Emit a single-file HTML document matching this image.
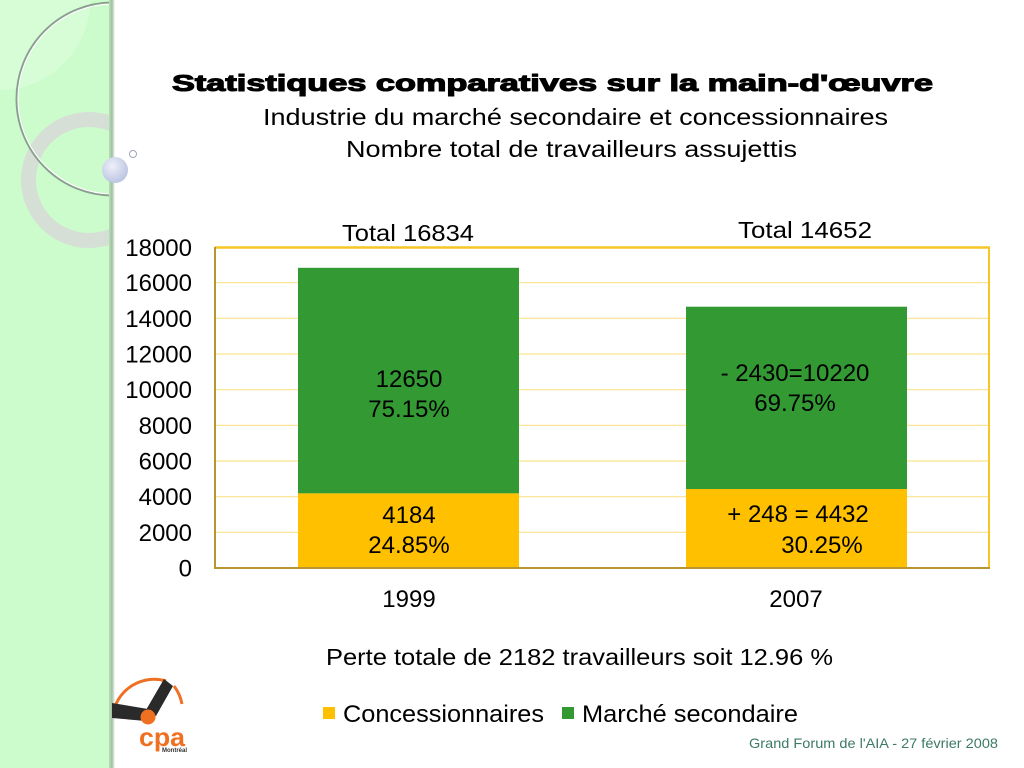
<!DOCTYPE html>
<html>
<head>
<meta charset="utf-8">
<style>
html,body{margin:0;padding:0;background:#fff;}
svg{display:block;}
text{font-family:"Liberation Sans",Arial,sans-serif;fill:#000;}
</style>
</head>
<body>
<svg width="1024" height="768" viewBox="0 0 1024 768" xmlns="http://www.w3.org/2000/svg">
<defs>
<linearGradient id="edge" x1="0" x2="1" y1="0" y2="0">
<stop offset="0" stop-color="#b9e0b9"/>
<stop offset="0.5" stop-color="#9fbf9f"/>
<stop offset="1" stop-color="#ffffff"/>
</linearGradient>
<radialGradient id="ball" cx="0.4" cy="0.35" r="0.7">
<stop offset="0" stop-color="#eef0fa"/>
<stop offset="1" stop-color="#b8c2e0"/>
</radialGradient>
<clipPath id="panel"><rect x="0" y="0" width="112" height="768"/></clipPath>
</defs>

<!-- left decorative panel -->
<rect x="0" y="0" width="112" height="768" fill="#ccfccc"/>
<g clip-path="url(#panel)">
  <path d="M0 0 H90 A90 90 0 0 1 0 90 Z" fill="#dcfddc" opacity="0.7"/>
  <circle cx="89" cy="180" r="60.5" fill="none" stroke="#d6dfd6" stroke-width="15"/>
  <circle cx="113" cy="99" r="96" fill="none" stroke="#8aa08f" stroke-width="3"/>
  <circle cx="113" cy="99" r="95" fill="none" stroke="#ffffff" stroke-width="1.2"/>
</g>
<rect x="109" y="0" width="6" height="768" fill="url(#edge)"/>
<circle cx="115" cy="170" r="13" fill="url(#ball)"/>
<circle cx="133" cy="154" r="3.5" fill="#fff" stroke="#a0a4b8" stroke-width="1"/>

<!-- titles -->
<text x="172" y="91" font-size="23" font-weight="bold" stroke="#000" stroke-width="1.1" textLength="761" lengthAdjust="spacingAndGlyphs">Statistiques comparatives sur la main-d'œuvre</text>
<text x="263" y="125" font-size="23" textLength="625" lengthAdjust="spacingAndGlyphs">Industrie du marché secondaire et concessionnaires</text>
<text x="346" y="157" font-size="23" textLength="451" lengthAdjust="spacingAndGlyphs">Nombre total de travailleurs assujettis</text>

<!-- gridlines -->
<g stroke="#fde38c" stroke-width="1.2">
  <line x1="216" x2="988" y1="282.7" y2="282.7"/>
  <line x1="216" x2="988" y1="318.3" y2="318.3"/>
  <line x1="216" x2="988" y1="354" y2="354"/>
  <line x1="216" x2="988" y1="389.7" y2="389.7"/>
  <line x1="216" x2="988" y1="425.3" y2="425.3"/>
  <line x1="216" x2="988" y1="461" y2="461"/>
  <line x1="216" x2="988" y1="496.7" y2="496.7"/>
  <line x1="216" x2="988" y1="532.3" y2="532.3"/>
</g>

<!-- bars -->
<rect x="298" y="267.8" width="221" height="225.6" fill="#339933"/>
<rect x="298" y="493.4" width="221" height="74.6" fill="#ffc000"/>
<rect x="686" y="306.7" width="221" height="182.3" fill="#339933"/>
<rect x="686" y="489" width="221" height="79" fill="#ffc000"/>

<!-- frame -->
<line x1="215" x2="990" y1="247.5" y2="247.5" stroke="#f7c526" stroke-width="2.5"/>
<line x1="989" x2="989" y1="247" y2="568" stroke="#f7c526" stroke-width="2"/>
<line x1="215" x2="215" y1="247" y2="569" stroke="#b8952e" stroke-width="2"/>
<line x1="214" x2="990" y1="568" y2="568" stroke="#b8952e" stroke-width="2"/>

<!-- y axis labels -->
<g font-size="24" text-anchor="end">
  <text x="192" y="256">18000</text>
  <text x="192" y="291.2">16000</text>
  <text x="192" y="326.8">14000</text>
  <text x="192" y="362.5">12000</text>
  <text x="192" y="398.2">10000</text>
  <text x="192" y="433.8">8000</text>
  <text x="192" y="469.5">6000</text>
  <text x="192" y="505.2">4000</text>
  <text x="192" y="540.8">2000</text>
  <text x="192" y="576.5">0</text>
</g>

<!-- totals -->
<text x="342" y="241" font-size="23" textLength="132" lengthAdjust="spacingAndGlyphs">Total 16834</text>
<text x="738" y="238" font-size="23" textLength="134" lengthAdjust="spacingAndGlyphs">Total 14652</text>

<!-- bar labels -->
<g font-size="24" text-anchor="middle">
  <text x="409" y="387">12650</text>
  <text x="409" y="417">75.15%</text>
  <text x="409" y="523">4184</text>
  <text x="409" y="553">24.85%</text>
  <text x="795" y="381">- 2430=10220</text>
  <text x="795" y="411">69.75%</text>
  <text x="798" y="522">+ 248 = 4432</text>
  <text x="822" y="553">30.25%</text>
  <text x="409" y="607">1999</text>
  <text x="796" y="607">2007</text>
</g>

<text x="326" y="665" font-size="23" textLength="507" lengthAdjust="spacingAndGlyphs">Perte totale de 2182 travailleurs soit 12.96 %</text>

<!-- legend -->
<rect x="323" y="707" width="12" height="12" fill="#ffc000"/>
<text x="343" y="722" font-size="24" textLength="201" lengthAdjust="spacingAndGlyphs">Concessionnaires</text>
<rect x="562" y="707" width="12" height="12" fill="#339933"/>
<text x="582" y="722" font-size="24" textLength="216" lengthAdjust="spacingAndGlyphs">Marché secondaire</text>

<!-- footer -->
<text x="749" y="748" font-size="14" style="fill:#3d7a66" textLength="249" lengthAdjust="spacingAndGlyphs">Grand Forum de l'AIA -  27 février 2008</text>

<!-- logo -->
<g>
  <path d="M116 704 A42 42 0 0 1 166 681" fill="none" stroke="#f07022" stroke-width="3"/>
  <path d="M174 686 A42 42 0 0 1 182 704" fill="none" stroke="#f07022" stroke-width="3"/>
  <polygon points="112,703 148,709 146,721 112,718" fill="#2a2a2a"/>
  <polygon points="164,679 173,686 156,716 146,710" fill="#2a2a2a"/>
  <circle cx="148" cy="717" r="7.5" fill="#f07022"/>
  <text x="139" y="746" font-size="26" font-weight="bold" style="fill:#f07022" textLength="46" lengthAdjust="spacingAndGlyphs">cpa</text>
  <text x="162" y="752" font-size="6" font-weight="bold" style="fill:#333">Montréal</text>
</g>
</svg>
</body>
</html>
